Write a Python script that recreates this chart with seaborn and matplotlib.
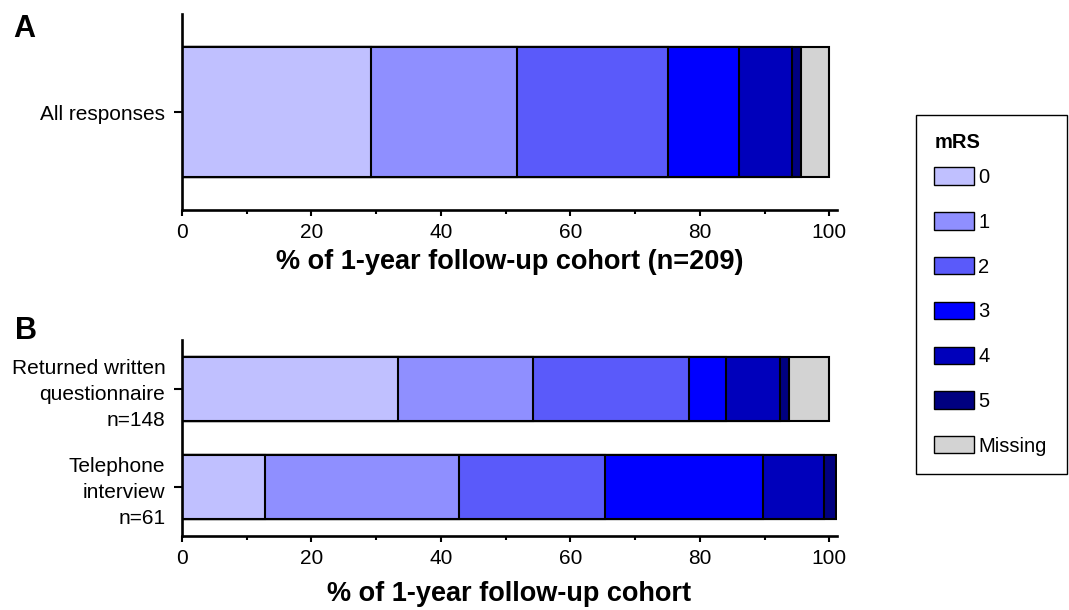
import numpy as np
import pandas as pd
import matplotlib
matplotlib.use("Agg")
import matplotlib.pyplot as plt
from matplotlib.patches import Patch
from matplotlib.ticker import MultipleLocator
import seaborn as sns

# ---- data (percent of cohort) ----
mrs_levels = ["0", "1", "2", "3", "4", "5", "Missing"]
colors = ["#C0C0FF", "#8F8FFF", "#5A5AFA", "#0000FF", "#0000BB", "#000080", "#D3D3D3"]

cat_a = ["All responses"]
vals_a = {
    "All responses": [29.2, 22.5, 23.4, 11.0, 8.1, 1.4, 4.3],
}

cat_b = ["Returned written\nquestionnaire\nn=148", "Telephone\ninterview\nn=61"]
vals_b = {
    cat_b[0]: [33.4, 20.8, 24.2, 5.7, 8.3, 1.4, 6.2],
    cat_b[1]: [12.9, 29.9, 22.6, 24.3, 9.5, 1.8, 0.0],
}

xlabel_a = "% of 1-year follow-up cohort (n=209)"
xlabel_b = "% of 1-year follow-up cohort"
xticks = [0, 20, 40, 60, 80, 100]

sns.set_style("ticks")
plt.rcParams["font.family"] = ["Liberation Sans", "DejaVu Sans"]
plt.rcParams["text.color"] = "black"
plt.rcParams["xtick.color"] = "black"
plt.rcParams["ytick.color"] = "black"
plt.rcParams["axes.labelcolor"] = "black"
plt.rcParams["axes.edgecolor"] = "black"

W, H = 1069, 610
fig = plt.figure(figsize=(W / 100, H / 100), dpi=100)

def px_axes(x0, y0, x1, y1):
    return fig.add_axes([x0 / W, 1 - y1 / H, (x1 - x0) / W, (y1 - y0) / H])

ax_a = px_axes(182, 14, 837, 210)
ax_b = px_axes(182, 340, 837, 536)

def stacked(ax, cats, vals, xlabel, labelpad):
    df = pd.DataFrame(vals, index=mrs_levels).T
    cum = df.cumsum(axis=1)
    for lvl, col in reversed(list(zip(mrs_levels, colors))):
        sns.barplot(x=cum[lvl].values, y=list(cats), orient="h", color=col,
                    saturation=1, width=0.66, edgecolor="black", linewidth=1.5,
                    ax=ax, order=list(cats))
    ax.set_xlim(0, 101.2)
    ax.set_xticks(xticks)
    ax.xaxis.set_minor_locator(MultipleLocator(10))
    ax.tick_params(axis="x", which="major", length=4.5, width=1.5, labelsize=15, pad=5)
    ax.tick_params(axis="x", which="minor", length=3, width=1.5)
    ax.tick_params(axis="y", which="major", length=6, width=1.5, labelsize=15, pad=6)
    for lbl in ax.get_yticklabels():
        lbl.set_linespacing(1.45)
    for s in ["top", "right"]:
        ax.spines[s].set_visible(False)
    for s in ["left", "bottom"]:
        ax.spines[s].set_linewidth(1.9)
    ax.set_xlabel(xlabel, fontsize=19.5, fontweight="bold", labelpad=labelpad)
    ax.set_ylabel("")

stacked(ax_a, cat_a, vals_a, xlabel_a, 5)
stacked(ax_b, cat_b, vals_b, xlabel_b, 9)

fig.text(13 / W, 1 - 37 / H, "A", fontsize=22, fontweight="bold", va="baseline")
fig.text(15 / W, 1 - 339 / H, "B", fontsize=22, fontweight="bold", va="baseline")

handles = [Patch(facecolor=c, edgecolor="black", linewidth=1, label=l)
           for l, c in zip(mrs_levels, colors)]
leg = fig.legend(handles=handles, loc="upper left",
                 bbox_to_anchor=(916 / W, 1 - 115 / H - 0.01, (1067 - 916) / W, 0.01),
                 mode="expand", title="mRS", alignment="left",
                 title_fontproperties={"weight": "bold", "size": 14.5},
                 fontsize=14.5, frameon=True, fancybox=False, edgecolor="black",
                 framealpha=1, borderaxespad=0, borderpad=0.9,
                 handlelength=2.0, handleheight=0.95, handletextpad=0.2,
                 labelspacing=1.25)
leg._legend_box.sep = 11
leg.get_frame().set_linewidth(1.0)

fig.savefig("out.png", dpi=100)
